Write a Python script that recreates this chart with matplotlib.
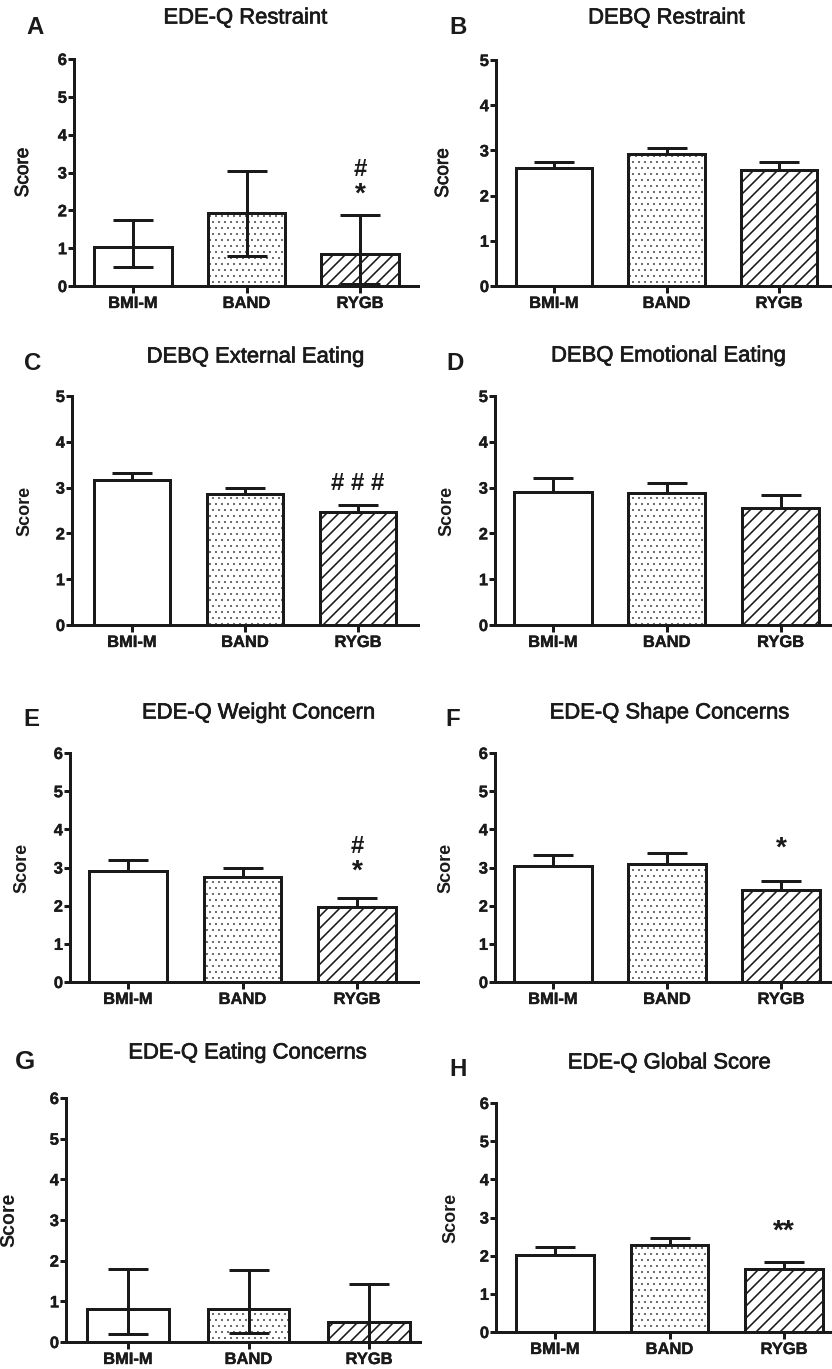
import numpy as np
import matplotlib
matplotlib.use("Agg")
import matplotlib.pyplot as plt
import matplotlib.patheffects as pe

plt.rcParams['font.family'] = ['Liberation Sans', 'DejaVu Sans']
plt.rcParams['hatch.linewidth'] = 1.6

groups = ["BMI-M", "BAND", "RYGB"]

# bar heights and error limits
a_mean = [1.02, 1.93, 0.85]
a_up = [1.75, 3.05, 1.88]
a_low = [0.50, 0.80, 0.05]

b_mean = [2.62, 2.92, 2.57]
b_up = [2.74, 3.05, 2.75]

c_mean = [3.17, 2.86, 2.47]
c_up = [3.31, 2.99, 2.62]

d_mean = [2.90, 2.88, 2.55]
d_up = [3.22, 3.09, 2.83]

e_mean = [2.92, 2.74, 1.96]
e_up = [3.19, 2.99, 2.20]

f_mean = [3.05, 3.10, 2.40]
f_up = [3.34, 3.37, 2.65]

g_mean = [0.80, 0.80, 0.49]
g_up = [1.79, 1.78, 1.42]
g_low = [0.19, 0.23, 0.00]

h_mean = [2.01, 2.27, 1.65]
h_up = [2.23, 2.46, 1.83]

titles = ["EDE-Q Restraint", "DEBQ Restraint", "DEBQ External Eating",
          "DEBQ Emotional Eating", "EDE-Q Weight Concern", "EDE-Q Shape Concerns",
          "EDE-Q Eating Concerns", "EDE-Q Global Score"]
letters = ["A", "B", "C", "D", "E", "F", "G", "H"]
ymax = [6, 5, 5, 5, 6, 6, 6, 6]

# significance marks: (panel, group index, text, y)
marks = [(0, 2, "*", 2.42), (0, 2, "#", 3.08),
         (2, 2, "# # #", 3.1),
         (4, 2, "*", 2.88), (4, 2, "#", 3.56),
         (5, 2, "*", 3.5),
         (7, 2, "**", 2.62)]

panels = [
    (a_mean, a_up, a_low), (b_mean, b_up, b_mean), (c_mean, c_up, c_mean),
    (d_mean, d_up, d_mean), (e_mean, e_up, e_mean), (f_mean, f_up, f_mean),
    (g_mean, g_up, g_low), (h_mean, h_up, h_mean),
]

W, H = 832, 1369
fig = plt.figure(figsize=(W / 72, H / 72), dpi=72)

# layout in pixels: left, top, right, bottom, first tick x, tick spacing
rects = [(74, 59, 418, 286, 133, 113.5), (496, 60, 832, 286, 554, 112.5),
         (72, 396, 418, 625, 132, 113), (495, 396, 832, 625, 553, 113.75),
         (70, 753, 418, 982, 128, 114.5), (495, 753, 832, 982, 553, 114),
         (66, 1098, 420, 1342, 128, 120.5), (496, 1103, 832, 1332, 555, 114.5)]
title_pos = [(245, 18), (666, 18), (255, 357), (668, 356),
             (258, 713), (669, 713), (247, 1053), (669, 1063)]
letter_pos = [(35, 27), (458, 27), (33, 363), (455, 363),
              (31, 719), (453, 719), (25, 1062), (458, 1070)]
score_x = [32, 452, 33, 455, 30, 454, 18, 459]

hatches = ["", "..", "//"]
hatch_lw = [1.0, 0.5, 1.6]
x = np.arange(len(groups))
ink = "#1a1a1a"
thick = [pe.withStroke(linewidth=0.7, foreground=ink)]
thin = [pe.withStroke(linewidth=0.4, foreground=ink)]

for i, (mean, up, low) in enumerate(panels):
    l, t, r, b, t0, sp = rects[i]
    ax = fig.add_axes([l / W, 1 - b / H, (r - l) / W, (b - t) / H])
    mean = np.array(mean)
    yerr = [mean - np.array(low), np.array(up) - mean]
    for k in range(len(groups)):
        with plt.rc_context({'hatch.linewidth': hatch_lw[k]}):
            ax.bar(x[k], mean[k], width=0.68, color="white", edgecolor=ink,
                   linewidth=3, hatch=hatches[k], zorder=2)
    ax.errorbar(x, mean, yerr=yerr, fmt="none", ecolor=ink, elinewidth=3,
                capsize=20, capthick=3, zorder=3)
    ax.set_xlim(-(t0 - l) / sp, (r - t0) / sp)
    ax.set_ylim(0, ymax[i])
    ax.set_yticks(range(ymax[i] + 1))
    ax.set_xticks(x)
    ax.set_xticklabels(groups)
    for s in ["top", "right"]:
        ax.spines[s].set_visible(False)
    for s in ["left", "bottom"]:
        ax.spines[s].set_linewidth(3)
        ax.spines[s].set_color(ink)
    ax.tick_params(axis="x", length=7, width=3, pad=3, color=ink)
    ax.tick_params(axis="y", length=6, width=3, pad=1, color=ink)
    for lab in ax.get_xticklabels() + ax.get_yticklabels():
        lab.set_fontsize(16.5)
        lab.set_fontweight("bold")
        lab.set_color(ink)
        lab.set_path_effects(thin)
    if i < 2:
        ax.set_ylabel("Score", fontsize=19, color=ink, path_effects=thick)
    else:
        ax.set_ylabel("Score", fontsize=19.5 if i == 6 else 18,
                      fontweight="bold", color=ink)
    ax.yaxis.set_label_coords((score_x[i] - l) / (r - l), 0.5)
    ax.patch.set_visible(False)

    tx, ty = title_pos[i]
    fig.text(tx / W, 1 - ty / H, titles[i], fontsize=22, color=ink,
             ha="center", va="center", path_effects=thick)
    lx, ly = letter_pos[i]
    fig.text(lx / W, 1 - ly / H, letters[i], fontsize=26 if i == 6 else 24,
             fontweight="bold", color=ink, ha="center", va="center")

    for p, g, txt, yv in marks:
        if p == i:
            fs = 28 if "*" in txt else 24
            ax.text(x[g], yv, txt, fontsize=fs, fontweight="bold", color=ink,
                    ha="center", va="center")

fig.savefig("out.png", dpi=72)
